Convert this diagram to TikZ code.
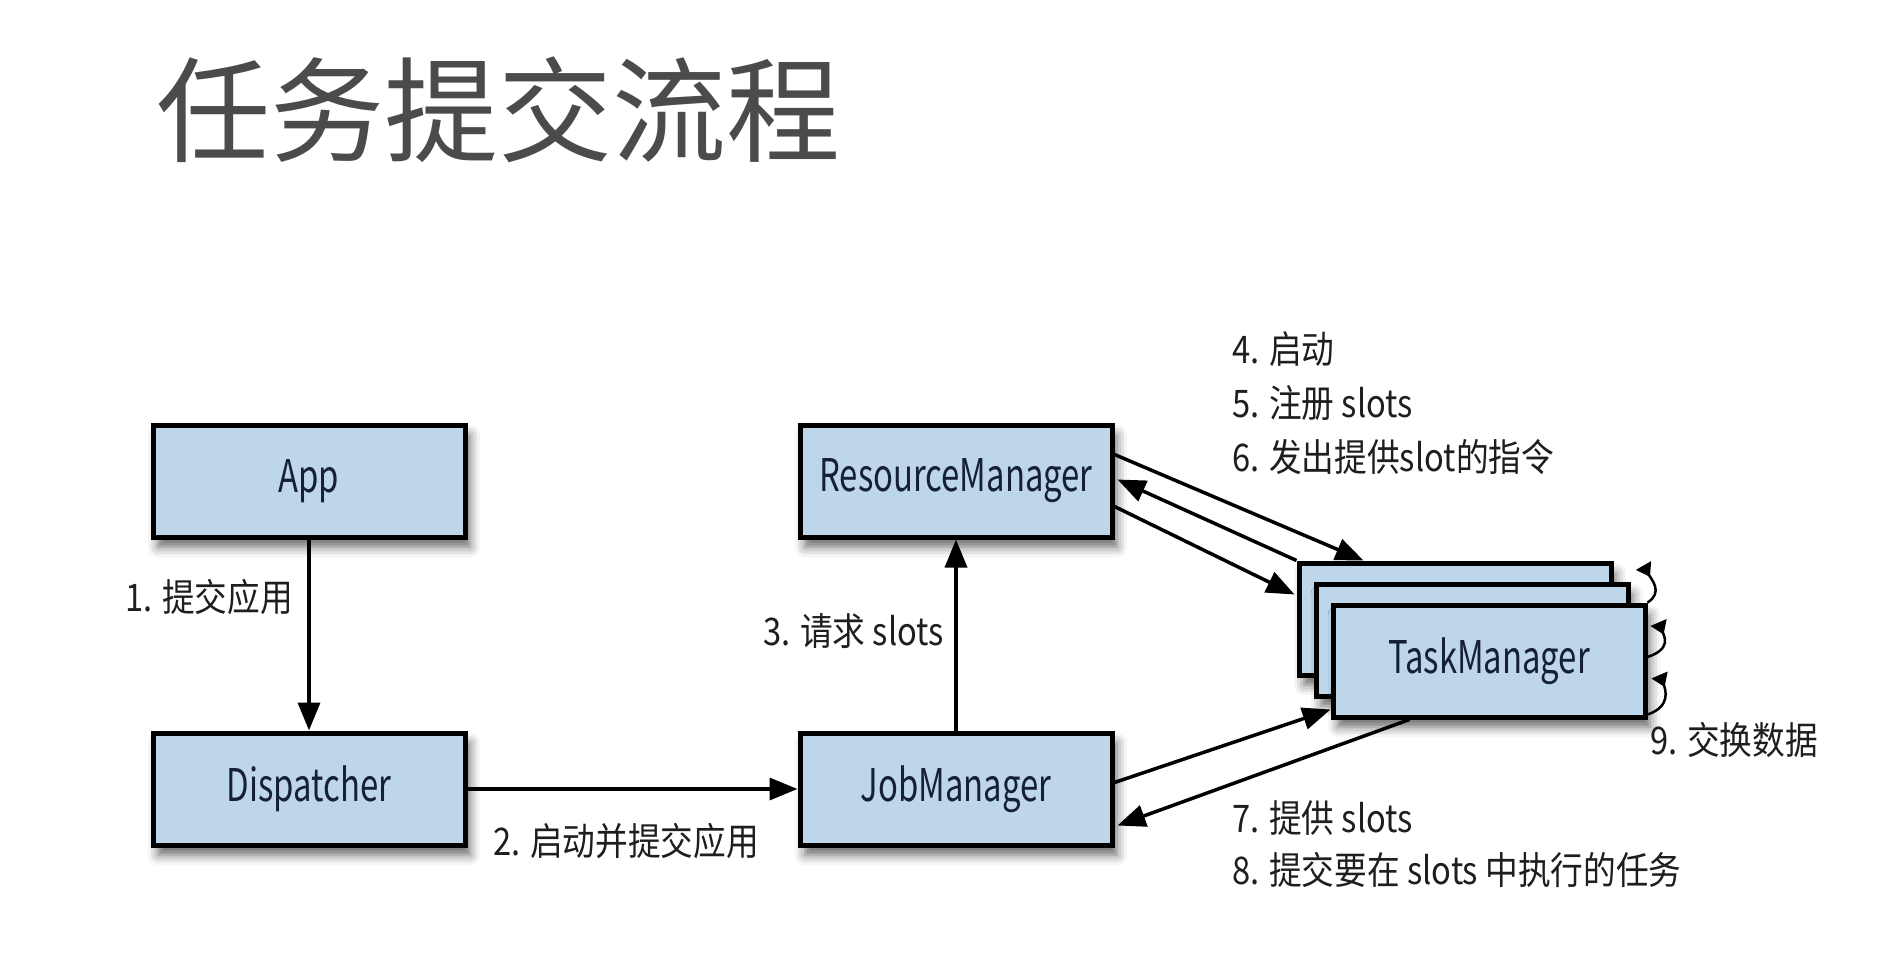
\documentclass[tikz,border=0pt]{standalone}
\usepackage{fontspec}
\setmainfont{Noto Sans CJK SC}
\newfontfamily\titlefont{Noto Sans CJK SC}
\newfontfamily\boxfont[FakeStretch=0.73]{Noto Sans CJK SC}
\newfontfamily\narrowfont[FakeStretch=0.86]{Noto Sans CJK SC}
\usetikzlibrary{arrows.meta,shadows.blur,calc}
\definecolor{boxblue}{RGB}{189,214,234}
\definecolor{boxtext}{RGB}{22,32,52}
\definecolor{titlegray}{RGB}{75,75,75}
\definecolor{labeltext}{RGB}{30,30,30}
\begin{document}
\begin{tikzpicture}[x=1pt,y=-1pt,
  box/.style={draw=black, line width=5pt, fill=boxblue,
    minimum width=312pt, minimum height=112pt, inner sep=0pt,
    font=\boxfont\fontsize{45}{50}\selectfont, text=boxtext,
    blur shadow={shadow xshift=5pt, shadow yshift=-10pt,
      shadow blur radius=10pt, shadow opacity=60}},
  flow/.style={line width=3.5pt, -{Triangle[length=28pt,width=22pt]}},
  lbl/.style={font=\narrowfont\fontsize{38}{54}\selectfont, text=labeltext,
    anchor=west, align=left, inner sep=0pt},
  swapflow/.style={line width=2.5pt, -{Triangle[reversed,length=13pt,width=17pt]}}
]
\useasboundingbox (0,0) rectangle (1900,966);

% title
\node[anchor=west, inner sep=0pt, text=titlegray,
      font=\titlefont\fontsize{114}{120}\selectfont] (title) at (156,110) {任务提交流程};

% components
\node[box] (app) at (309,481) {App};
\node[box] (disp) at (309,789) {Dispatcher};
\node[box] (rm) at (956,481) {ResourceManager};
\node[box] (jm) at (956,789) {JobManager};

% stacked task managers, back to front
\node[box] (tm3) at (1455,619) {};
\node[box] (tm2) at (1472,640) {};
\node[box] (tm1) at (1489,661) {TaskManager};

% main flow
\draw[flow] (app) -- (disp);
\draw[flow] (disp) -- (jm);
\draw[flow] (jm) -- (rm);

% resource manager <-> task managers
\draw[flow] ($(rm.north east)+(0,32)$) -- ($(tm3.north west)+(67,0)$);
\draw[flow] (tm3.north west) -- ($(rm.north east)+(3,57)$);
\draw[flow] ($(rm.north east)+(0,84)$) -- ($(tm3.north west)+(-2,34)$);

% job manager <-> task managers
\draw[flow] ($(jm.north east)+(0,52)$) -- ($(tm1.south west)+(0,-10)$);
\draw[flow] ($(tm1.south west)+(79,0)$) -- ($(jm.north east)+(3,95)$);

% data exchange between task managers
\draw[swapflow] (tm1.north east) .. controls +(16,-10) and +(8,14) .. ($(tm2.north east)+(13,-16)$);
\draw[swapflow] ($(tm1.east)+(0,-4)$) .. controls +(24,-8) and +(6,14) .. ($(tm1.north east)+(11,20)$);
\draw[swapflow] ($(tm1.south east)+(0,-5)$) .. controls +(24,-8) and +(6,14) .. ($(tm1.east)+(12,14)$);

% step labels
\node[lbl] (l1) at (125,597) {1. 提交应用};
\node[lbl] (l2) at (493,841) {2. 启动并提交应用};
\node[lbl] (l3) at (763,631) {3. 请求 slots};
\node[lbl] (l456) at (1232,403) {4. 启动\\5. 注册 slots\\6. 发出提供slot的指令};
\node[lbl, font=\narrowfont\fontsize{38}{52}\selectfont] (l78) at (1232,844) {7. 提供 slots\\8. 提交要在 slots 中执行的任务};
\node[lbl] (l9) at (1650,740) {9. 交换数据};
\end{tikzpicture}
\end{document}
